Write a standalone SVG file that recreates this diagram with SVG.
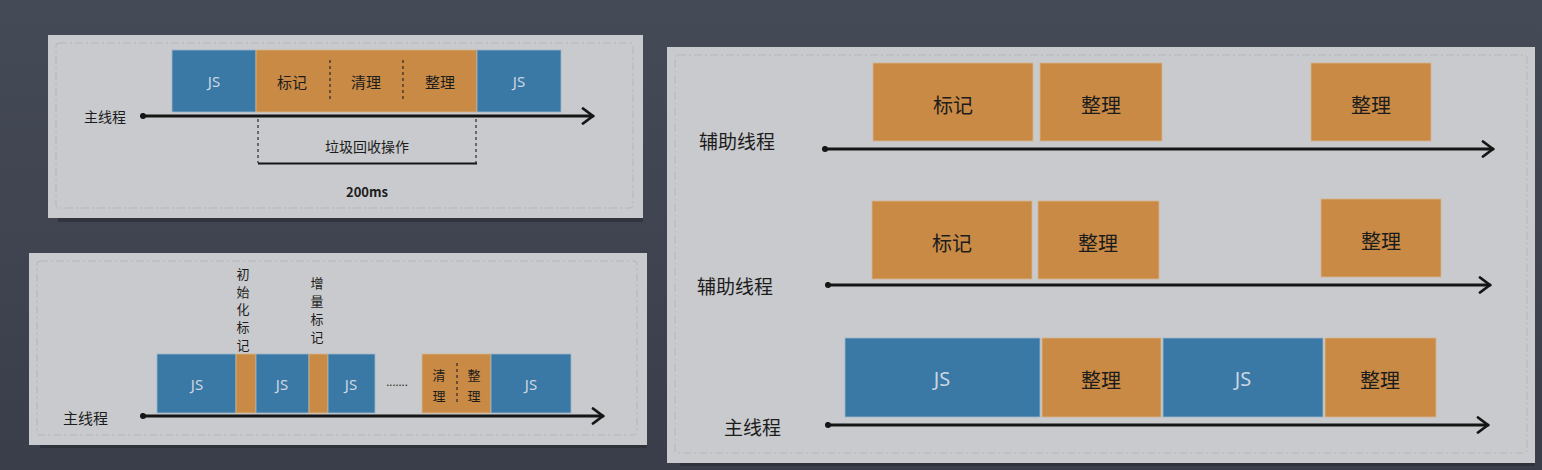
<svg xmlns="http://www.w3.org/2000/svg" width="1542" height="470" viewBox="0 0 1542 470">
<defs>
<style>
.panel{fill:#c9cacd;}
.inner{fill:none;stroke:#b3b5b9;stroke-width:1;stroke-dasharray:8 3 2 3;}
.shadow{fill:#25282e;opacity:0.55;}
.js{fill:#3a78a6;stroke:#9fb6c8;stroke-width:0.8;}
.gc{fill:#c98a45;stroke:#d7b48c;stroke-width:0.8;}
.t{font-family:"Noto Sans CJK SC","Noto Sans",sans-serif;fill:#1c1c1c;text-anchor:middle;dominant-baseline:central;}
.jt{font-family:"Noto Sans","DejaVu Sans",sans-serif;fill:#cdd7e0;text-anchor:middle;dominant-baseline:central;}
.lbl{font-family:"Noto Sans CJK SC","Noto Sans",sans-serif;fill:#1c1c1c;dominant-baseline:central;}
.axis{stroke:#151515;stroke-width:3.2;fill:none;stroke-linecap:round;}
.dash{stroke:#2a2a2a;stroke-width:1.2;stroke-dasharray:3 3;fill:none;}
</style>
<marker id="arr" viewBox="0 0 14 18" refX="12" refY="9" markerWidth="14" markerHeight="18" markerUnits="userSpaceOnUse" orient="auto">
<path d="M2,1.5 L12,9 L2,16.5" fill="none" stroke="#151515" stroke-width="2.8" stroke-linecap="round" stroke-linejoin="round"/>
</marker>
<marker id="dot" viewBox="0 0 8 8" refX="4" refY="4" markerWidth="7" markerHeight="7" markerUnits="userSpaceOnUse">
<circle cx="4" cy="4" r="3.5" fill="#151515"/>
</marker>
<linearGradient id="bg" x1="0" y1="0" x2="0" y2="1">
<stop offset="0" stop-color="#454a57"/>
<stop offset="1" stop-color="#3a3e4a"/>
</linearGradient>
</defs>
<rect width="1542" height="470" fill="url(#bg)"/>

<g id="panel1">
<rect class="shadow" x="58" y="206" width="585" height="16"/>
<rect class="panel" x="48" y="35" width="595" height="183"/>
<rect class="inner" x="56" y="43" width="577" height="165" rx="3"/>
</g>
<g id="panel2">
<rect class="shadow" x="40" y="432" width="607" height="16"/>
<rect class="panel" x="29" y="253" width="618" height="192"/>
<rect class="inner" x="37" y="261" width="600" height="174" rx="3"/>
</g>
<g id="panel3">
<rect class="shadow" x="680" y="448" width="855" height="18"/>
<rect class="panel" x="667" y="47" width="868" height="416"/>
<rect class="inner" x="675" y="55" width="852" height="398" rx="3"/>
</g>

<g id="connectors">
<line class="axis" x1="143" y1="116" x2="593" y2="116" marker-start="url(#dot)" marker-end="url(#arr)"/>
<line class="axis" x1="143" y1="416" x2="603" y2="416" marker-start="url(#dot)" marker-end="url(#arr)"/>
<line class="axis" x1="825" y1="149" x2="1493" y2="149" marker-start="url(#dot)" marker-end="url(#arr)"/>
<line class="axis" x1="828" y1="285" x2="1490" y2="285" marker-start="url(#dot)" marker-end="url(#arr)"/>
<line class="axis" x1="828" y1="425" x2="1488" y2="425" marker-start="url(#dot)" marker-end="url(#arr)"/>
<path class="dash" d="M258,119 V163 M476,119 V163"/>
<line x1="258" y1="163.5" x2="477" y2="163.5" stroke="#151515" stroke-width="2.2"/>
</g>

<g id="tl-js1"><rect class="js" x="172" y="50" width="84" height="62"/><text class="jt" x="214" y="81" font-size="15">JS</text></g>
<g id="tl-gc"><rect class="gc" x="256" y="50" width="221" height="62"/>
<path class="dash" d="M330,60 V102 M403,60 V102"/>
<text class="t" x="292" y="81" font-size="15">标记</text>
<text class="t" x="366" y="81" font-size="15">清理</text>
<text class="t" x="440" y="81" font-size="15">整理</text></g>
<g id="tl-js2"><rect class="js" x="477" y="50" width="84" height="62"/><text class="jt" x="519" y="81" font-size="15">JS</text></g>
<g id="tl-label"><text class="lbl" x="84" y="116" font-size="14">主线程</text></g>
<g id="tl-gcop"><text class="t" x="367" y="146" font-size="14">垃圾回收操作</text></g>
<g id="tl-time"><text class="t" x="367" y="191" font-size="13" font-weight="bold" font-family="Noto Sans, sans-serif">200ms</text></g>

<g id="bl-js1"><rect class="js" x="157" y="354" width="79" height="59"/><text class="jt" x="197" y="384" font-size="15">JS</text></g>
<g id="bl-init"><rect class="gc" x="236" y="354" width="20" height="59"/></g>
<g id="bl-js2"><rect class="js" x="256" y="354" width="53" height="59"/><text class="jt" x="282" y="384" font-size="15">JS</text></g>
<g id="bl-inc"><rect class="gc" x="309" y="354" width="19" height="59"/></g>
<g id="bl-js3"><rect class="js" x="328" y="354" width="47" height="59"/><text class="jt" x="351" y="384" font-size="15">JS</text></g>
<g id="bl-dots"><text class="t" x="397" y="381" font-size="11" font-family="Liberation Sans, sans-serif">.......</text></g>
<g id="bl-gc"><rect class="gc" x="422" y="354" width="69" height="59"/>
<path class="dash" d="M457,363 V405"/>
<text class="t" x="439" y="374" font-size="13">清</text><text class="t" x="439" y="395" font-size="13">理</text>
<text class="t" x="474" y="374" font-size="13">整</text><text class="t" x="474" y="395" font-size="13">理</text></g>
<g id="bl-js4"><rect class="js" x="491" y="354" width="80" height="59"/><text class="jt" x="531" y="384" font-size="15">JS</text></g>
<g id="bl-label"><text class="lbl" x="63" y="417" font-size="15">主线程</text></g>
<g id="bl-initlbl"><text class="t" font-size="13"><tspan x="243" y="273">初</tspan><tspan x="243" y="291">始</tspan><tspan x="243" y="308">化</tspan><tspan x="243" y="326">标</tspan><tspan x="243" y="344">记</tspan></text></g>
<g id="bl-inclbl"><text class="t" font-size="13"><tspan x="317" y="282">增</tspan><tspan x="317" y="300">量</tspan><tspan x="317" y="318">标</tspan><tspan x="317" y="336">记</tspan></text></g>

<g id="r1-mark"><rect class="gc" x="873" y="63" width="160" height="78"/><text class="t" x="953" y="104" font-size="20">标记</text></g>
<g id="r1-comp1"><rect class="gc" x="1040" y="63" width="122" height="78"/><text class="t" x="1101" y="104" font-size="20">整理</text></g>
<g id="r1-comp2"><rect class="gc" x="1311" y="63" width="120" height="78"/><text class="t" x="1371" y="104" font-size="20">整理</text></g>
<g id="r1-label"><text class="lbl" x="699" y="140" font-size="19">辅助线程</text></g>

<g id="r2-mark"><rect class="gc" x="872" y="201" width="160" height="78"/><text class="t" x="952" y="242" font-size="20">标记</text></g>
<g id="r2-comp1"><rect class="gc" x="1038" y="201" width="121" height="78"/><text class="t" x="1098" y="242" font-size="20">整理</text></g>
<g id="r2-comp2"><rect class="gc" x="1321" y="199" width="120" height="78"/><text class="t" x="1381" y="240" font-size="20">整理</text></g>
<g id="r2-label"><text class="lbl" x="697" y="285" font-size="19">辅助线程</text></g>

<g id="r3-js1"><rect class="js" x="845" y="338" width="195" height="79"/><text class="jt" x="942" y="378" font-size="20">JS</text></g>
<g id="r3-comp1"><rect class="gc" x="1042" y="338" width="119" height="79"/><text class="t" x="1101" y="379" font-size="20">整理</text></g>
<g id="r3-js2"><rect class="js" x="1163" y="338" width="160" height="79"/><text class="jt" x="1243" y="378" font-size="20">JS</text></g>
<g id="r3-comp2"><rect class="gc" x="1325" y="338" width="111" height="79"/><text class="t" x="1380" y="379" font-size="20">整理</text></g>
<g id="r3-label"><text class="lbl" x="724" y="426" font-size="19">主线程</text></g>
</svg>
